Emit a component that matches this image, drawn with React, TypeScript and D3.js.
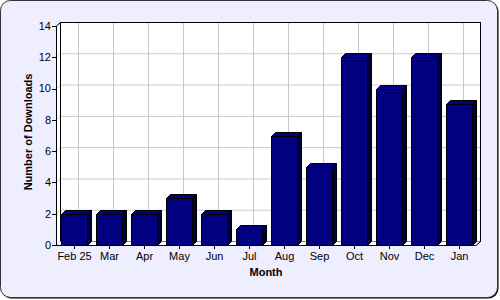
import React from "react";
import * as d3 from "d3";

const months = ["Feb 25", "Mar", "Apr", "May", "Jun", "Jul", "Aug", "Sep", "Oct", "Nov", "Dec", "Jan"];
const downloads = [2, 2, 2, 3, 2, 1, 7, 5, 12, 10, 12, 9];
const yTicks = [0, 2, 4, 6, 8, 10, 12, 14];

export default function App() {
  const W = 500, H = 300;
  const x0 = 56, x1 = 476, yBottom = 245, yTop = 26;
  const d = 4;
  const x = d3.scaleBand<string>().domain(months).range([x0, x1]).paddingInner(0.26).paddingOuter(0.13);
  const xc = d3.scaleBand<string>().domain(months).range([x0, x1]);
  const y = d3.scaleLinear().domain([0, 14]).range([yBottom, yTop]);
  const font = "Liberation Sans, Arial, sans-serif";
  return (
    <svg width={W} height={H} style={{ position: "absolute", left: 0, top: 0 }}>
      <rect x={1.5} y={1.5} width={W - 3} height={H - 3} rx={10} fill="#000" />
      <rect x={0.5} y={0.5} width={W - 3} height={H - 3} rx={10} fill="#EEEEFF" stroke="#333" strokeWidth={1} />
      {/* back wall */}
      <rect x={x0 + d} y={yTop - d} width={x1 - x0} height={yBottom - yTop} fill="#fff" />
      {/* left wall & floor */}
      <polygon points={`${x0},${yTop} ${x0 + d},${yTop - d} ${x0 + d},${yBottom - d} ${x0},${yBottom}`} fill="#fff" />
      <polygon points={`${x0},${yBottom} ${x0 + d},${yBottom - d} ${x1 + d},${yBottom - d} ${x1},${yBottom}`} fill="#fff" />
      {yTicks.map((t) => (
        <line key={"g" + t} x1={x0 + d} x2={x1 + d} y1={y(t) - d + 0.5} y2={y(t) - d + 0.5} stroke="#c8c8c8" />
      ))}
      {months.map((m) => {
        const cx = Math.round((xc(m) as number) + xc.bandwidth() / 2) + d + 0.5;
        return <line key={"v" + m} x1={cx} x2={cx} y1={yTop - d} y2={yBottom - d} stroke="#c8c8c8" />;
      })}
      {yTicks.map((t) => (
        <line key={"lg" + t} x1={x0} x2={x0 + d} y1={y(t) + 0.5} y2={y(t) - d + 0.5} stroke="#c8c8c8" />
      ))}
      <rect x={x0 + d + 0.5} y={yTop - d + 0.5} width={x1 - x0} height={yBottom - yTop} fill="none" stroke="#000" />
      <line x1={x0 + d} x2={x1 + d} y1={yBottom - d + 0.5} y2={yBottom - d + 0.5} stroke="#888" />
      <polyline points={`${x0 + 0.5},${yTop} ${x0 + d + 0.5},${yTop - d + 0.5}`} fill="none" stroke="#000" />
      <polyline points={`${x1},${yBottom + 0.5} ${x1 + d + 0.5},${yBottom - d + 0.5}`} fill="none" stroke="#000" />
      {/* bars */}
      {months.map((m, i) => {
        const bx = Math.round(x(m) as number) + 0.5;
        const bw = Math.round(x.bandwidth());
        const by = Math.round(y(downloads[i])) + 0.5;
        const bb = yBottom + 0.5;
        return (
          <g key={"b" + m} stroke="#000" strokeWidth={1} strokeLinejoin="miter">
            <polygon points={`${bx},${by} ${bx + d},${by - d} ${bx + bw + d},${by - d} ${bx + bw},${by}`} fill="#000080" />
            <polygon points={`${bx + bw},${by} ${bx + bw + d},${by - d} ${bx + bw + d},${bb - d} ${bx + bw},${bb}`} fill="#000033" />
            <rect x={bx} y={by} width={bw} height={bb - by} fill="#000080" />
          </g>
        );
      })}
      {/* axes */}
      <line x1={x0 + 0.5} x2={x0 + 0.5} y1={yTop} y2={yBottom + 1} stroke="#000" />
      <line x1={x0} x2={x1} y1={yBottom + 0.5} y2={yBottom + 0.5} stroke="#000" />
      {yTicks.map((t) => (
        <g key={"yt" + t}>
          <line x1={x0 - 4} x2={x0} y1={Math.round(y(t)) + 0.5} y2={Math.round(y(t)) + 0.5} stroke="#000" />
          <text x={x0 - 5} y={y(t)} dy="0.35em" textAnchor="end" fontFamily={font} fontSize={11} fill="#000">{t}</text>
        </g>
      ))}
      {months.map((m) => {
        const cx = Math.round((xc(m) as number) + xc.bandwidth() / 2) + 0.5;
        return (
          <g key={"xt" + m}>
            <line x1={cx} x2={cx} y1={yBottom} y2={yBottom + 4} stroke="#000" />
            <text x={cx} y={yBottom + 15} textAnchor="middle" fontFamily={font} fontSize={11} fill="#000">{m}</text>
          </g>
        );
      })}
      <text x={266} y={276} textAnchor="middle" fontFamily={font} fontSize={11} fontWeight="bold" fill="#000">Month</text>
      <text transform={`translate(32,132) rotate(-90)`} textAnchor="middle" fontFamily={font} fontSize={11} fontWeight="bold" fill="#000">Number of Downloads</text>
    </svg>
  );
}
